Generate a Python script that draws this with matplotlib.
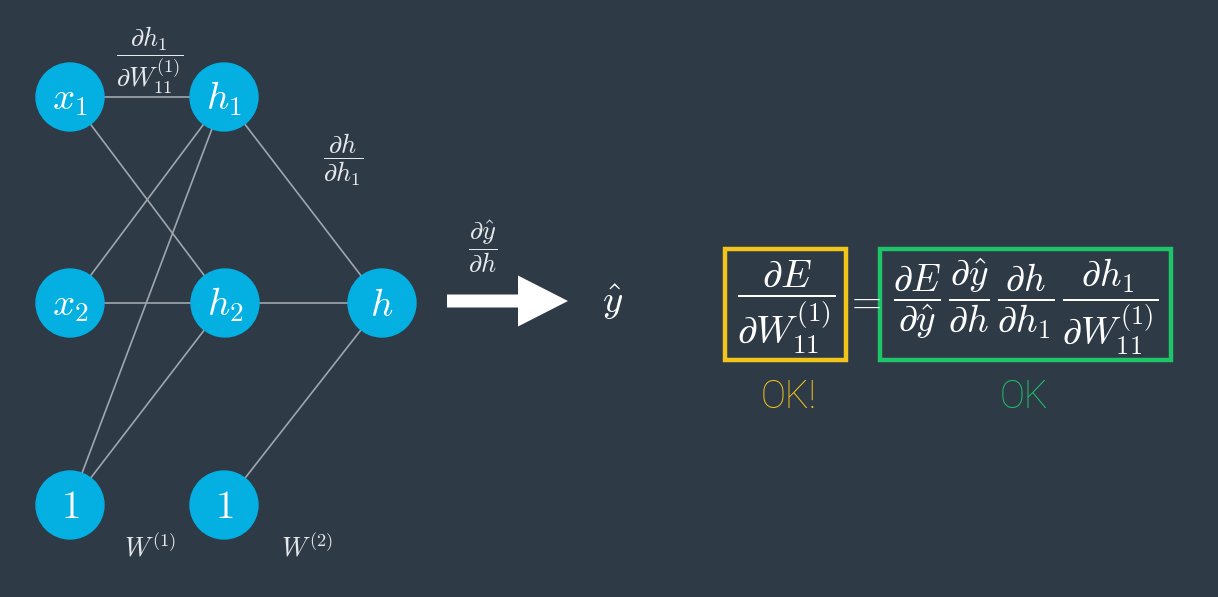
import matplotlib
matplotlib.use("Agg")
import matplotlib.pyplot as plt
from matplotlib.patches import Circle, Rectangle, FancyArrow

plt.rcParams['mathtext.fontset'] = 'cm'

bg = '#2f3a47'
node_col = '#04afe1'
edge_col = '#9ea6ae'
yellow = '#f2c51b'
green = '#1dc468'

# nodes of the network
node_names = ["x1", "h1", "x2", "h2", "h", "b1", "b2"]
node_labels = [r"$x_1$", r"$h_1$", r"$x_2$", r"$h_2$", r"$h$", r"$1$", r"$1$"]
node_xy = {"x1": (70, 97), "h1": (224, 97), "x2": (70, 303), "h2": (225, 303),
           "h": (382, 303), "b1": (70, 505), "b2": (224, 505)}
edges = [("x1", "h1"), ("x1", "h2"), ("x2", "h1"), ("x2", "h2"),
         ("b1", "h1"), ("b1", "h2"), ("h1", "h"), ("h2", "h"), ("b2", "h")]

chain_terms = [r"\dfrac{\partial E}{\partial \hat{y}}",
               r"\dfrac{\partial \hat{y}}{\partial h}",
               r"\dfrac{\partial h}{\partial h_1}",
               r"\dfrac{\partial h_1}{\partial W_{11}^{(1)}}"]
lhs_term = r"\dfrac{\partial E}{\partial W_{11}^{(1)}}"
status = ["OK!", "OK"]

fig = plt.figure(figsize=(12.18, 5.97), dpi=100, facecolor=bg)
ax = fig.add_axes([0, 0, 1, 1])
ax.set_facecolor(bg)
ax.set_xlim(0, 1218)
ax.set_ylim(597, 0)
ax.axis('off')

for a, b in edges:
    (xa, ya), (xb, yb) = node_xy[a], node_xy[b]
    ax.plot([xa, xb], [ya, yb], color=edge_col, lw=1.2, zorder=1)

for name, lab in zip(node_names, node_labels):
    x, y = node_xy[name]
    ax.add_patch(Circle((x, y), 34, color=node_col, zorder=2))
    ax.text(x, y + 2, lab, color='white', fontsize=28, ha='center', va='center', zorder=3)

# edge derivative labels
ax.text(150, 60, r"$\dfrac{\partial h_1}{\partial W_{11}^{(1)}}$", color='#e6e9ec',
        fontsize=19, ha='center', va='center')
ax.text(343, 160, r"$\dfrac{\partial h}{\partial h_1}$", color='#e6e9ec',
        fontsize=19, ha='center', va='center')
ax.text(150, 548, r"$W^{(1)}$", color='#e6e9ec', fontsize=19, ha='center', va='center')
ax.text(307, 548, r"$W^{(2)}$", color='#e6e9ec', fontsize=19, ha='center', va='center')

# output arrow
ax.add_patch(FancyArrow(447, 301, 121, 0, width=13, head_width=51, head_length=50,
                        length_includes_head=True, color='white', lw=0))
ax.text(483, 247, r"$\dfrac{\partial \hat{y}}{\partial h}$", color='#e6e9ec',
        fontsize=19, ha='center', va='center')
ax.text(613, 302, r"$\hat{y}$", color='white', fontsize=28, ha='center', va='center')

# chain rule
ax.add_patch(Rectangle((725, 249), 121, 111, fill=False, ec=yellow, lw=3.2))
ax.add_patch(Rectangle((880, 249), 291, 111, fill=False, ec=green, lw=3.2))
ax.text(786, 307, "$" + lhs_term + "$", color='white', fontsize=28, ha='center', va='center')
ax.text(863, 302, "$=$", color='white', fontsize=28, ha='center', va='center')
ax.text(1026, 307, "$" + r"\,".join(chain_terms) + "$", color='white', fontsize=27,
        ha='center', va='center')

ax.text(789, 397, status[0], color=yellow, fontsize=27, family='Roboto', weight='light',
        ha='center', va='center')
ax.text(1024, 397, status[1], color=green, fontsize=27, family='Roboto', weight='light',
        ha='center', va='center')

plt.savefig("out.png", dpi=100, facecolor=bg)
